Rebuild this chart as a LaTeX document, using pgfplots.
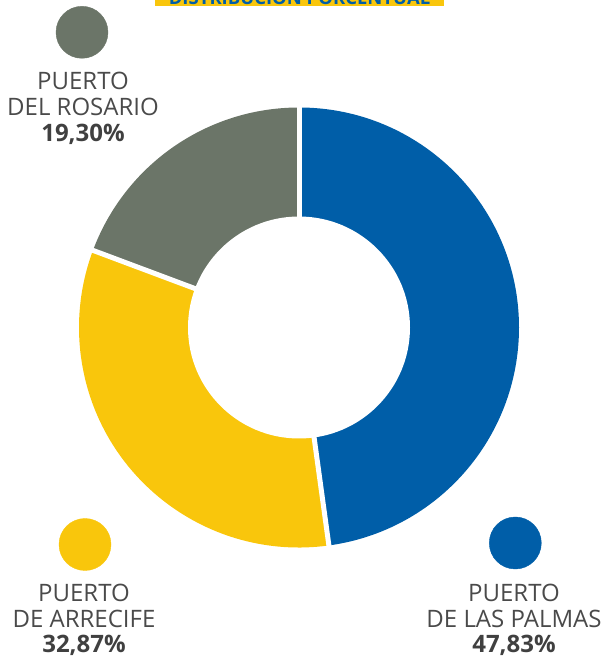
\documentclass[border=0pt]{standalone}
\usepackage{pgfplots}
\pgfplotsset{compat=1.18}
\usepackage{pgfplotstable}
\usepackage{fontspec}
\setmainfont{Open Sans}
\definecolor{cblue}{HTML}{005EA8}
\definecolor{cyellow}{HTML}{F9C60C}
\definecolor{cgray}{HTML}{6B7568}
\definecolor{ctext}{HTML}{4A4A4A}
\definecolor{cpct}{HTML}{404040}
\pgfplotstableread{
name pct
LasPalmas 47.83
Arrecife 32.87
Rosario 19.30
}\sharetable
\pgfplotstablegetelem{0}{pct}\of\sharetable \let\pA\pgfplotsretval
\pgfplotstablegetelem{1}{pct}\of\sharetable \let\pB\pgfplotsretval
\pgfplotstablegetelem{2}{pct}\of\sharetable \let\pC\pgfplotsretval
\pgfmathsetmacro{\aA}{90-3.6*\pA}
\pgfmathsetmacro{\aB}{\aA-3.6*\pB}
\pgfmathsetmacro{\aC}{\aB-3.6*\pC}
\newcommand{\labfont}{\fontsize{24}{26}\selectfont\color{ctext}}
\newcommand{\pctfont}{\fontsize{24}{26}\selectfont\bfseries\color{cpct}}
\begin{document}
\begin{tikzpicture}
\useasboundingbox (0pt,0pt) rectangle (608pt,659pt);
\clip (0pt,0pt) rectangle (608pt,659pt);
\begin{axis}[at={(0pt,0pt)}, anchor=origin, x=1pt, y=1pt,
  xmin=0, xmax=608, ymin=0, ymax=659, hide axis, clip=false]
% title band (cut off at top)
\fill[cyellow] (axis cs:155,653) rectangle (axis cs:444,690);
\node[anchor=base, font=\fontsize{18.5}{20}\selectfont\bfseries, text=cblue, inner sep=0pt] at (axis cs:299.5,654) {DISTRIBUCIÓN PORCENTUAL};
% donut
\fill[cblue] (axis cs:299,331.5) -- ++(90:220pt) arc[start angle=90, end angle=\aA, radius=220pt] -- cycle;
\fill[cyellow] (axis cs:299,331.5) -- ++(\aA:220pt) arc[start angle=\aA, end angle=\aB, radius=220pt] -- cycle;
\fill[cgray] (axis cs:299,331.5) -- ++(\aB:220pt) arc[start angle=\aB, end angle=\aC, radius=220pt] -- cycle;
\fill[white] (axis cs:299,331.5) circle[radius=111pt];
\draw[white, line width=5pt] (axis cs:299,331.5) -- ++(90:225pt);
\draw[white, line width=5pt] (axis cs:299,331.5) -- ++(\aA:225pt);
\draw[white, line width=5pt] (axis cs:299,331.5) -- ++(\aB:225pt);
% legend dots
\addplot[only marks, mark=*, mark size=26pt, color=cgray] coordinates {(82,626.7)};
\addplot[only marks, mark=*, mark size=26pt, color=cyellow] coordinates {(85,114.5)};
\addplot[only marks, mark=*, mark size=26pt, color=cblue] coordinates {(515.3,116)};
% labels
\node[anchor=base, font=\labfont, inner sep=0pt] at (axis cs:83,569) {PUERTO};
\node[anchor=base, font=\labfont, inner sep=0pt] at (axis cs:83,543.3) {DEL ROSARIO};
\node[anchor=base, font=\pctfont, inner sep=0pt] at (axis cs:83,517.3) {19,30\%};
\node[anchor=base, font=\labfont, inner sep=0pt] at (axis cs:84,57) {PUERTO};
\node[anchor=base, font=\labfont, inner sep=0pt] at (axis cs:84,31) {DE ARRECIFE};
\node[anchor=base, font=\pctfont, inner sep=0pt] at (axis cs:84,6) {32,87\%};
\node[anchor=base, font=\labfont, inner sep=0pt] at (axis cs:514,57) {PUERTO};
\node[anchor=base, font=\labfont, inner sep=0pt] at (axis cs:514,31) {DE LAS PALMAS};
\node[anchor=base, font=\pctfont, inner sep=0pt] at (axis cs:514,6) {47,83\%};
\end{axis}
\end{tikzpicture}
\end{document}
